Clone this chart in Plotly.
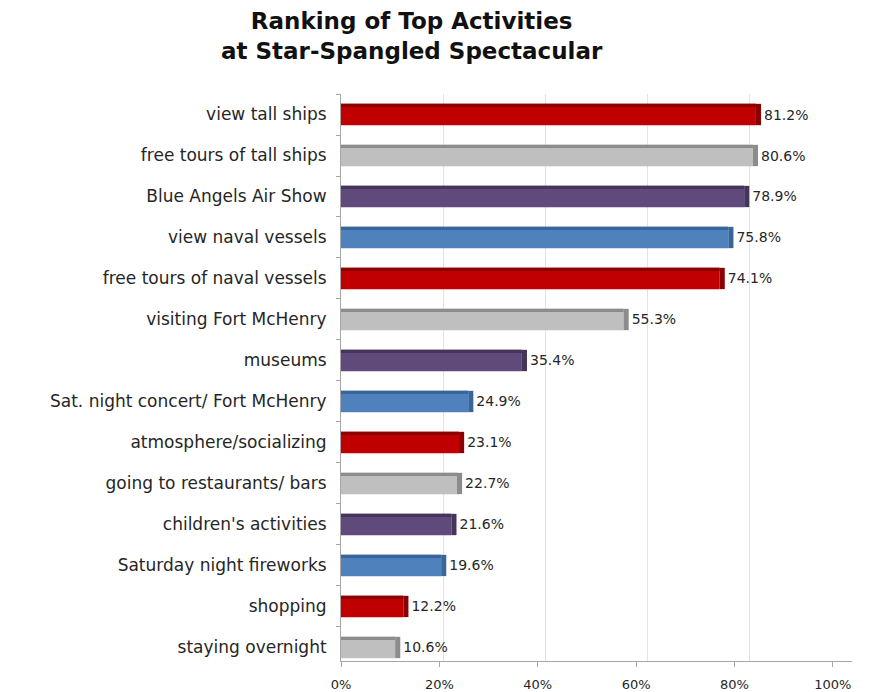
import plotly.graph_objects as go

categories = ["view tall ships", "free tours of tall ships", "Blue Angels Air Show",
              "view naval vessels", "free tours of naval vessels", "visiting Fort McHenry",
              "museums", "Sat. night concert/ Fort McHenry", "atmosphere/socializing",
              "going to restaurants/ bars", "children's activities",
              "Saturday night fireworks", "shopping", "staying overnight"]
values = [81.2, 80.6, 78.9, 75.8, 74.1, 55.3, 35.4, 24.9, 23.1, 22.7, 21.6, 19.6, 12.2, 10.6]
labels = ["81.2%", "80.6%", "78.9%", "75.8%", "74.1%", "55.3%", "35.4%", "24.9%",
          "23.1%", "22.7%", "21.6%", "19.6%", "12.2%", "10.6%"]
palette = ["#C00000", "#BFBFBF", "#604A7B", "#4F81BD"]
side_palette = ["#8B0000", "#8C8C8C", "#45355A", "#38659A"]
x_ticks = [0, 20, 40, 60, 80, 100]
x_ticklabels = ["0%", "20%", "40%", "60%", "80%", "100%"]
title_text = "<b>Ranking of Top Activities<br>at Star-Spangled Spectacular</b>"

colors = [palette[i % 4] for i in range(len(values))]
side_colors = [side_palette[i % 4] for i in range(len(values))]
FONT = "DejaVu Sans"
BAR_W = 0.52

fig = go.Figure()
# front face
fig.add_trace(go.Bar(
    y=categories, x=values, orientation="h", width=BAR_W,
    marker=dict(color=colors, line=dict(width=0)),
    hoverinfo="skip", showlegend=False,
))
# top face (darker band)
fig.add_trace(go.Bar(
    y=categories, x=values, orientation="h", width=0.08, offset=-BAR_W / 2,
    marker=dict(color=side_colors, line=dict(width=0)),
    hoverinfo="skip", showlegend=False,
))
# side face + value labels
fig.add_trace(go.Bar(
    y=categories, x=[1.0] * len(values), base=values, orientation="h", width=BAR_W,
    marker=dict(color=side_colors, line=dict(width=0)),
    text=labels, textposition="outside", cliponaxis=False,
    textfont=dict(family=FONT, size=14, color="#262626"),
    hoverinfo="skip", showlegend=False,
))
# empty trace so the front (label) axis is drawn
fig.add_trace(go.Scatter(x=[], y=[], xaxis="x2", yaxis="y", mode="markers",
                         hoverinfo="skip", showlegend=False))

fig.add_annotation(
    text=title_text, xref="paper", yref="paper", x=0.139, y=1.0,
    xanchor="center", yanchor="middle", yshift=58, showarrow=False,
    font=dict(family=FONT, size=23, color="#111111"),
)

fig.update_layout(
    width=863, height=684,
    barmode="overlay",
    paper_bgcolor="white", plot_bgcolor="white",
    margin=dict(l=333, r=19, t=86, b=31),
    font=dict(family=FONT, size=16, color="#333333"),
    xaxis=dict(range=[0, 100], tickvals=x_ticks, showticklabels=False,
               showgrid=True, gridcolor="#E3E3E3", gridwidth=1,
               showline=True, linecolor="#C8C8C8", linewidth=1,
               ticks="", zeroline=False, fixedrange=True, automargin=False),
    xaxis2=dict(overlaying="x", anchor="y", side="bottom",
                range=[0, 103.9], tickvals=x_ticks, ticktext=x_ticklabels,
                showgrid=False, showline=True, linecolor="#A6A6A6", linewidth=1,
                ticks="outside", ticklen=5, tickcolor="#A6A6A6",
                ticklabelstandoff=6,
                tickfont=dict(family=FONT, size=13, color="#262626"),
                zeroline=False, fixedrange=True, automargin=False),
    yaxis=dict(range=[13.33, -0.5], showline=True, linecolor="#A6A6A6", linewidth=1,
               ticks="outside", tickson="boundaries", ticklen=4, tickcolor="#A6A6A6",
               ticklabelstandoff=10,
               tickfont=dict(family=FONT, size=17, color="#262626"),
               showgrid=False, fixedrange=True, automargin=False),
)

fig.write_html("out.html")
